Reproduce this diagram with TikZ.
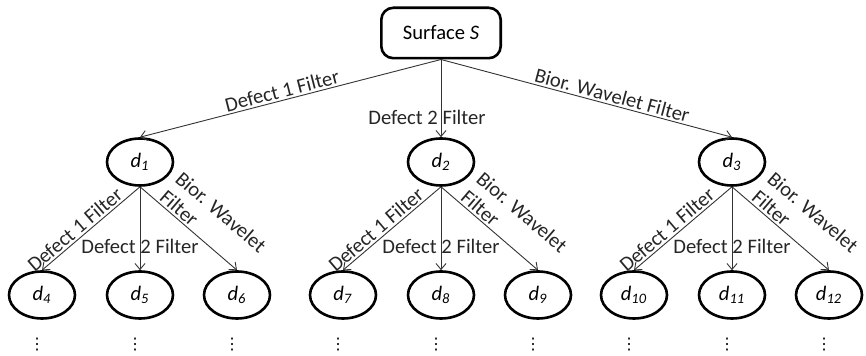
\documentclass[tikz,border=0pt]{standalone}
\usepackage{fontspec}
\setmainfont{Carlito}
\newfontfamily\symfont{DejaVu Sans}
\usetikzlibrary{arrows.meta,shapes.geometric}
\newcommand\dsub[1]{\textit{d}\textsubscript{\textit{#1}}}
\tikzset{
  surf/.style={draw,rounded corners=6pt,line width=1.3pt,minimum width=59.7pt,minimum height=25.2pt},
  dnode/.style={draw,ellipse,line width=1.3pt,minimum width=33pt,minimum height=23.5pt,inner sep=0pt},
  filt/.style={-{Straight Barb[length=3pt,width=5pt]},line width=0.45pt,black!80},
  lab/.style={sloped,above,inner sep=1pt,text=black!85},
  flat/.style={inner sep=1pt,text=black!85},
  dots/.style={inner sep=0pt,xshift=-2.5pt,font=\symfont\fontsize{8}{8}\selectfont},
}
\begin{document}
\begin{tikzpicture}[x=0.5pt,y=-0.5pt,font=\fontsize{10.3}{12}\selectfont]
  \useasboundingbox (0,0) rectangle (866,356);
  \node[surf](s)at(441,33){Surface \textit{S}};
  % first level
  \node[dnode](d1)at(140,162){\dsub{1}};
  \node[dnode](d2)at(441,162){\dsub{2}};
  \node[dnode](d3)at(732,162){\dsub{3}};
  \draw[filt](s.south)--node[lab,pos=0.52]{Defect 1 Filter}(d1.north);
  \draw[filt](s.south)--node[flat,pos=0.75,xshift=-7pt]{Defect 2 Filter}(d2.north);
  \draw[filt](s.south)--node[lab,pos=0.58]{Bior. Wavelet Filter}(d3.north);
  % second level
  \foreach \p/\x/\a/\b/\c in {1/140/4/5/6,2/441/7/8/9,3/732/10/11/12}{
    \node[dnode](d\a)at(\x-98,295){\dsub{\a}};
    \node[dnode](d\b)at(\x,295){\dsub{\b}};
    \node[dnode](d\c)at(\x+97,295){\dsub{\c}};
    \draw[filt](d\p.south)--node[lab,pos=0.6]{Defect 1 Filter}(d\a.north);
    \draw[filt](d\p.south)--node[flat,pos=0.72]{Defect 2 Filter}(d\b.north);
    \draw[filt](d\p.south)--node[lab,pos=0.61,align=left]{Bior. Wavelet\\Filter}(d\c.north);
    \node[dots](v\a)at(\x-98,345){⋮};
    \node[dots](v\b)at(\x,345){⋮};
    \node[dots](v\c)at(\x+97,345){⋮};
  }
\end{tikzpicture}
\end{document}
